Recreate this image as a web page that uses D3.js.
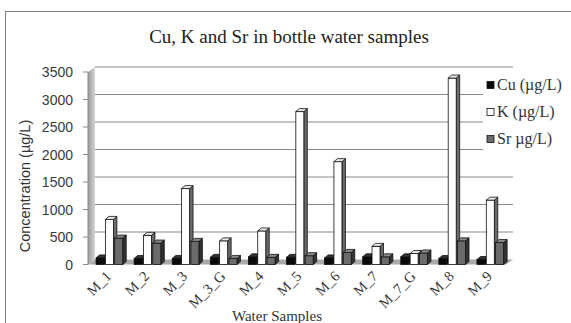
<!DOCTYPE html>
<html>
<head>
<meta charset="utf-8">
<script src="https://cdn.jsdelivr.net/npm/d3@7"></script>
<style>
  html, body { margin: 0; padding: 0; background: #fff; }
  svg { display: block; }
</style>
</head>
<body>
<div id="chart"></div>
<script>
// data
var samples = ["M_1", "M_2", "M_3", "M_3_G", "M_4", "M_5", "M_6", "M_7", "M_7_G", "M_8", "M_9"];
var seriesNames = ["Cu (µg/L)", "K (µg/L)", "Sr µg/L)"];
var cuValues = [120, 110, 110, 130, 140, 130, 120, 140, 140, 110, 90];
var kValues  = [820, 530, 1380, 430, 610, 2780, 1870, 330, 200, 3390, 1170];
var srValues = [480, 390, 420, 110, 130, 160, 220, 140, 210, 430, 400];
var yTicks = [0, 500, 1000, 1500, 2000, 2500, 3000, 3500];

var W = 571, H = 323;
var svg = d3.select("#chart").append("svg")
    .attr("width", W)
    .attr("height", H);

// outer chart frame (runs off the picture right and bottom)
svg.append("rect")
    .attr("x", 5.5).attr("y", 11.5)
    .attr("width", 700).attr("height", 400)
    .attr("fill", "#fff")
    .attr("stroke", "#808080")
    .attr("stroke-width", 1);

// 3d offsets of the back wall
var wallDx = 7, wallDy = -5;

var y = d3.scaleLinear().domain([0, 3500]).range([264.5, 72]);
var x0 = d3.scaleBand().domain(samples).range([91, 510]);
var x1 = d3.scaleBand().domain(seriesNames).range([0, 28]);

var left = 88, right = 506;

// left side wall
var wallGrad = svg.append("defs").append("linearGradient")
    .attr("id", "wallGrad").attr("x1", 0).attr("x2", 1).attr("y1", 0).attr("y2", 0);
wallGrad.append("stop").attr("offset", 0).attr("stop-color", "#9a9a9a");
wallGrad.append("stop").attr("offset", 1).attr("stop-color", "#d6d6d6");

svg.append("path")
    .attr("d", "M" + left + "," + y(0) + "L" + left + "," + y(3500) +
               "L" + (left + wallDx) + "," + (y(3500) + wallDy) +
               "L" + (left + wallDx) + "," + (y(0) + wallDy) + "Z")
    .attr("fill", "url(#wallGrad)");

// gridlines on the back wall
svg.selectAll(".grid")
  .data(yTicks.filter(function(d) { return d > 0; }))
  .enter().append("line")
    .attr("class", "grid")
    .attr("x1", left + wallDx).attr("x2", right + wallDx)
    .attr("y1", function(d) { return y(d) + wallDy; })
    .attr("y2", function(d) { return y(d) + wallDy; })
    .attr("stroke", "#8a8a8a")
    .attr("stroke-width", 1.2);

// floor
svg.append("path")
    .attr("d", "M" + left + "," + y(0) + "L" + right + "," + y(0) +
               "L" + (right + wallDx) + "," + (y(0) + wallDy) +
               "L" + (left + wallDx) + "," + (y(0) + wallDy) + "Z")
    .attr("fill", "#a9a9a9");

// y axis
svg.append("line")
    .attr("x1", left).attr("x2", left)
    .attr("y1", y(0)).attr("y2", y(3500))
    .attr("stroke", "#8a8a8a");
svg.selectAll(".ytick")
  .data(yTicks).enter().append("line")
    .attr("x1", left - 5).attr("x2", left)
    .attr("y1", function(d) { return y(d); })
    .attr("y2", function(d) { return y(d); })
    .attr("stroke", "#8a8a8a");
svg.selectAll(".ylab")
  .data(yTicks).enter().append("text")
    .attr("x", 73)
    .attr("y", function(d) { return y(d) + 5; })
    .attr("text-anchor", "end")
    .style("font-family", "'Liberation Sans', Arial, sans-serif")
    .style("font-size", "14px")
    .style("fill", "#3a3a3a")
    .text(function(d) { return d; });

// bars, 3d style: front face, right side and top
var barDx = 3.5, barDy = -3, barW = 8;
var fills = {
  "Cu (µg/L)": { front: "#0a0a0a", side: "#000", top: "#333" },
  "K (µg/L)":  { front: "#ffffff", side: "#6a6a6a", top: "#e8e8e8" },
  "Sr µg/L)":  { front: "#6b6b6b", side: "#333333", top: "#8a8a8a" }
};

var rows = samples.map(function(s, i) {
  return { sample: s, values: [cuValues[i], kValues[i], srValues[i]] };
});

var groups = svg.selectAll(".grp")
  .data(rows).enter().append("g")
    .attr("class", "grp")
    .attr("transform", function(d) { return "translate(" + (x0(d.sample) + (x0.bandwidth() - 28) / 2) + ",0)"; });

groups.each(function(d) {
  var g = d3.select(this);
  seriesNames.forEach(function(name, j) {
    var v = d.values[j];
    var bx = x1(name), top = y(v), base = y(0);
    var f = fills[name];
    // side
    g.append("path")
      .attr("d", "M" + (bx + barW) + "," + base + "L" + (bx + barW) + "," + top +
                 "L" + (bx + barW + barDx) + "," + (top + barDy) +
                 "L" + (bx + barW + barDx) + "," + (base + barDy) + "Z")
      .attr("fill", f.side).attr("stroke", "#111").attr("stroke-width", 0.8);
    // front
    g.append("rect")
      .attr("x", bx).attr("y", top)
      .attr("width", barW).attr("height", base - top)
      .attr("fill", f.front).attr("stroke", "#111").attr("stroke-width", 0.8);
    // top
    g.append("path")
      .attr("d", "M" + bx + "," + top + "L" + (bx + barW) + "," + top +
                 "L" + (bx + barW + barDx) + "," + (top + barDy) +
                 "L" + (bx + barDx) + "," + (top + barDy) + "Z")
      .attr("fill", f.top).attr("stroke", "#111").attr("stroke-width", 0.8);
  });
});

// category labels
svg.selectAll(".xlab")
  .data(samples).enter().append("text")
    .attr("transform", function(d) {
      return "translate(" + (x0(d) + x0.bandwidth() / 2 + 2) + ",277) rotate(-45)";
    })
    .attr("text-anchor", "end")
    .style("font-family", "'Liberation Serif', 'Times New Roman', serif")
    .style("font-size", "14.5px")
    .style("fill", "#333")
    .text(function(d) { return d; });

// title
svg.append("text")
    .attr("x", 289).attr("y", 43)
    .attr("text-anchor", "middle")
    .style("font-family", "'Liberation Serif', 'Times New Roman', serif")
    .style("font-size", "19px")
    .style("fill", "#222")
    .text("Cu, K and Sr in bottle water samples");

// axis titles
svg.append("text")
    .attr("transform", "translate(30,186) rotate(-90)")
    .attr("text-anchor", "middle")
    .style("font-family", "'Liberation Sans', Arial, sans-serif")
    .style("font-size", "14.5px")
    .style("fill", "#333")
    .text("Concentration (µg/L)");

svg.append("text")
    .attr("x", 277).attr("y", 321)
    .attr("text-anchor", "middle")
    .style("font-family", "'Liberation Serif', 'Times New Roman', serif")
    .style("font-size", "15px")
    .style("fill", "#333")
    .text("Water Samples");

// legend
var legend = svg.append("g");
legend.append("rect")
    .attr("x", 483).attr("y", 72).attr("width", 84).attr("height", 80)
    .attr("fill", "#fff");
var legendY = d3.scalePoint().domain(seriesNames).range([85, 139]);
seriesNames.forEach(function(name) {
  legend.append("rect")
    .attr("x", 487).attr("y", legendY(name) - 3.5)
    .attr("width", 7).attr("height", 7)
    .attr("fill", fills[name].front)
    .attr("stroke", "#111").attr("stroke-width", 0.8);
  legend.append("text")
    .attr("x", 497).attr("y", legendY(name) + 5)
    .style("font-family", "'Liberation Serif', 'Times New Roman', serif")
    .style("font-size", "16px")
    .style("fill", "#333")
    .text(name);
});
</script>
</body>
</html>
